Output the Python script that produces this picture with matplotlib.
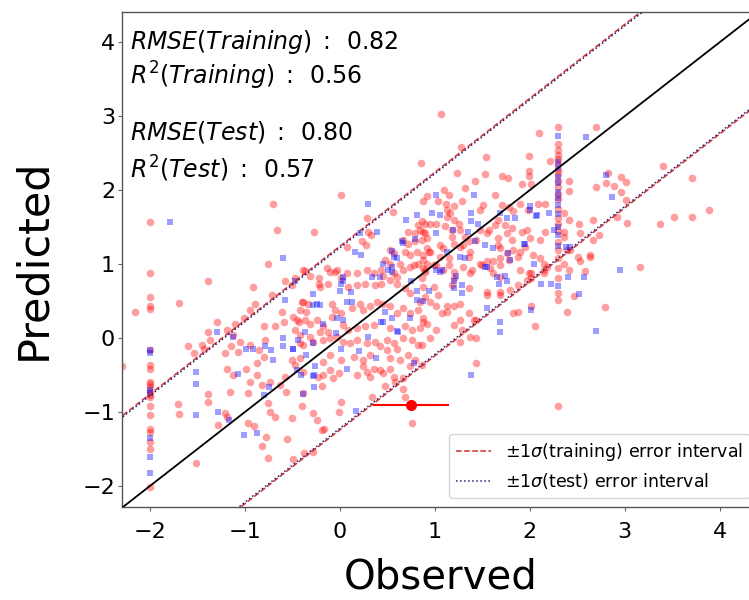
import matplotlib
matplotlib.use("Agg")
import matplotlib.pyplot as plt
from matplotlib.lines import Line2D

# ---------------- data ----------------
train_points = [
    (-2.0, 1.57), (-0.70, 1.81), (-0.66, 1.46), (-0.27, 1.44), (0.02, 1.94),
    (1.07, 3.03), (1.28, 2.59), (0.86, 2.37), (1.24, 2.24), (1.54, 2.45), (1.53, 2.22), (1.43, 2.13),
    (1.71, 2.19), (1.77, 2.16), (1.99, 2.47), (1.99, 2.26), (1.99, 2.19), (2.10, 2.78), (1.92, 2.08),
    (2.02, 2.08), (2.70, 2.86), (2.22, 2.40), (2.42, 2.12), (2.42, 1.99), (2.83, 2.24), (2.70, 2.04),
    (2.80, 2.10), (2.89, 2.06), (2.96, 2.18), (3.01, 2.11), (2.96, 1.98), (3.01, 1.87), (2.92, 1.64),
    (3.03, 1.56), (3.40, 2.33), (3.71, 2.16), (3.89, 1.73), (3.71, 1.64), (3.52, 1.64), (3.37, 1.55),
    (2.52, 1.54), (2.67, 1.60), (2.41, 1.60), (2.53, 1.42),
    (0.29, 1.62), (0.56, 1.71), (0.30, 1.44), (0.33, 1.40), (0.24, 1.31), (0.28, 1.26), (0.08, 1.23),
    (0.72, 1.44), (0.79, 1.42), (0.85, 1.46), (0.90, 1.42), (0.83, 1.53), (0.90, 1.55), (0.67, 1.33),
    (0.72, 1.27), (0.79, 1.31), (0.87, 1.33), (0.92, 1.35), (0.53, 1.19), (0.57, 1.15), (0.69, 1.17),
    (0.74, 1.13), (0.81, 1.17), (0.88, 1.13), (0.94, 1.17), (0.48, 1.06), (0.53, 1.01), (0.44, 0.92),
    (0.64, 1.01), (0.67, 0.92), (0.74, 0.97), (0.83, 1.01), (0.88, 0.95), (-0.13, 0.95), (-0.03, 0.92),
    (0.08, 0.88), (0.18, 0.88), (0.29, 0.92), (0.36, 0.88), (-0.47, 0.81), (-0.38, 0.92), (-0.31, 0.84),
    (0.46, 0.84), (0.60, 0.83),
    (1.10, 2.01), (1.32, 2.03), (1.64, 1.94), (1.15, 1.94), (1.04, 1.85), (1.12, 1.82), (1.20, 1.79),
    (1.29, 1.85), (0.92, 1.92), (0.88, 1.85), (1.13, 1.73), (1.16, 1.69), (1.51, 1.80), (1.48, 1.73),
    (1.71, 1.80), (1.78, 1.78), (1.83, 1.72), (1.90, 1.81), (1.98, 1.74), (2.09, 1.81), (2.16, 1.82),
    (2.36, 1.69), (1.67, 1.60), (1.64, 1.53), (0.87, 1.58), (0.88, 1.44), (0.95, 1.55), (1.02, 1.54),
    (1.13, 1.64), (1.20, 1.60), (1.26, 1.55), (1.11, 1.52), (1.18, 1.46), (1.27, 1.46), (1.32, 1.37),
    (1.36, 1.31), (1.44, 1.33), (1.48, 1.46), (1.57, 1.46), (1.74, 1.53), (1.81, 1.49), (1.92, 1.44),
    (1.67, 1.26), (1.69, 1.22), (0.92, 1.22), (0.95, 1.17), (1.06, 1.26), (1.09, 1.22), (1.20, 1.28),
    (1.27, 1.24), (1.37, 1.17), (1.36, 1.10), (1.76, 1.15), (1.83, 1.19), (1.90, 1.17), (1.95, 1.24),
    (2.00, 1.35), (2.11, 1.33), (2.16, 1.44), (2.36, 1.44), (2.36, 1.37), (2.39, 1.19), (2.04, 1.13),
    (2.11, 1.08), (1.69, 0.99), (1.58, 0.95), (1.48, 1.01), (1.90, 0.92), (2.01, 0.88), (2.15, 0.92),
    (1.20, 0.90), (1.30, 0.97), (1.37, 0.88), (0.90, 0.92), (1.02, 0.99), (1.09, 0.92),
    (1.18, 1.37), (1.30, 1.26), (1.55, 1.42), (1.67, 1.35), (1.76, 1.42), (1.81, 1.33), (1.97, 1.46),
    (2.67, 1.33), (2.73, 1.40), (2.43, 1.19), (2.51, 1.10), (2.64, 1.13),
    (0.88, 1.06), (1.06, 1.10), (1.15, 1.08), (1.50, 0.99), (1.55, 1.04), (1.62, 1.04), (1.69, 1.08),
    (1.78, 1.06), (1.88, 1.10), (2.15, 1.01),
    (-0.50, 0.72), (-0.38, 0.49), (-0.33, 0.47), (-0.42, 0.38), (-0.10, 0.89), (-0.05, 0.90), (0.01, 0.81),
    (-0.22, 0.81), (-0.12, 0.74), (-0.21, 0.70), (0.09, 0.70), (0.18, 0.72), (0.27, 0.74), (0.37, 0.72),
    (0.44, 0.74), (0.53, 0.79), (0.60, 0.74), (0.57, 0.88), (0.69, 0.68), (0.74, 0.61), (0.88, 0.70),
    (0.90, 0.56), (-0.08, 0.47), (-0.05, 0.38), (0.01, 0.34), (-0.08, 0.29), (0.13, 0.41), (0.22, 0.47),
    (0.25, 0.38), (0.32, 0.43), (0.39, 0.49), (0.46, 0.47), (0.53, 0.43), (0.60, 0.34), (0.67, 0.41),
    (0.74, 0.34), (0.83, 0.38), (0.88, 0.27), (0.92, 0.20), (0.53, 0.14), (0.69, 0.16), (0.76, 0.11),
    (0.85, 0.14), (-0.49, 0.29), (-0.43, 0.22), (-0.36, 0.25), (-0.31, 0.20), (-0.24, 0.25), (-0.17, 0.16),
    (-0.21, 0.09), (-0.12, 0.09), (0.04, 0.18), (0.09, 0.11), (0.18, 0.14), (0.27, 0.16), (0.36, 0.18),
    (-0.42, 0.04), (-0.31, 0.02), (-0.38, -0.09), (-0.28, -0.05), (-0.17, -0.02), (-0.10, 0.0),
    (-0.03, 0.02), (0.04, -0.05), (0.11, -0.07), (0.18, -0.02), (0.29, -0.07), (0.37, -0.05),
    (0.43, -0.11), (0.50, -0.02), (0.57, -0.07), (0.50, -0.16), (0.60, -0.14), (0.67, 0.0), (0.76, -0.02),
    (0.83, -0.09), (0.32, -0.23), (0.25, -0.29), (0.15, -0.25), (0.01, -0.29), (-0.10, -0.23),
    (-0.17, -0.32), (-0.50, -0.29), (-0.42, -0.27), (-0.10, -0.43), (-0.01, -0.47), (-0.17, -0.50),
    (0.53, -0.27), (0.64, -0.29), (0.72, -0.23), (0.79, -0.29), (0.74, -0.38), (0.29, -0.45),
    (0.43, -0.43), (0.53, -0.41), (0.18, -0.50), (0.32, -0.52),
    (0.92, 1.01), (0.99, 0.99), (1.15, 0.99), (1.20, 0.81), (1.18, 0.72), (0.87, 0.81), (0.99, 0.70),
    (1.04, 0.59), (0.85, 0.49), (0.95, 0.49), (1.02, 0.43), (1.13, 0.43), (1.20, 0.43), (1.27, 0.47),
    (1.08, 0.34), (1.13, 0.36), (1.36, 0.68), (1.39, 0.92), (1.62, 0.88), (1.69, 0.83), (1.55, 0.63),
    (1.55, 0.59), (1.69, 0.63), (1.69, 0.59), (1.79, 0.65), (1.88, 0.72), (1.97, 0.79), (1.36, 0.34),
    (1.41, 0.25), (1.44, 0.25), (1.27, 0.25), (1.20, 0.18), (1.02, 0.11), (0.95, 0.0), (0.88, 0.22),
    (1.29, 0.11), (1.37, 0.02), (1.44, 0.0), (1.27, -0.05), (0.87, -0.09), (1.44, -0.34), (1.83, 0.34),
    (1.88, 0.36), (2.01, 0.43), (2.06, 0.16), (1.99, 0.88), (2.01, 0.81), (2.15, 0.88), (2.18, 0.97),
    (2.36, 1.01), (2.41, 0.92), (2.39, 0.36),
    (3.16, 0.96), (2.58, 0.91), (2.64, 1.10), (2.53, 1.04), (2.47, 0.57), (2.79, 0.42),
    (-2.15, 0.35), (-1.69, 0.48), (-1.38, 0.77), (-2.29, -0.38), (-1.70, -0.89), (-1.69, -1.02),
    (-1.51, -1.68), (-1.29, 0.22), (-1.38, 0.09), (-1.36, -0.02), (-1.45, -0.09), (-1.43, -0.14),
    (-1.19, -0.41), (-1.12, -0.50), (-0.99, -0.41), (-1.38, -0.75), (-1.38, -0.86), (-1.15, -0.72),
    (-1.21, -1.01), (-1.19, -1.06), (-1.28, -1.17), (-0.96, -1.14), (-0.90, -1.19), (-0.82, -1.46),
    (-0.75, -1.62), (-0.55, -1.36), (-0.49, -1.63), (-0.37, -1.55), (-0.16, -1.23), (-0.50, -1.08),
    (-0.68, -1.06), (-0.75, -0.88), (-0.73, -0.99), (-0.96, -0.74), (-0.94, -0.59), (-0.82, -0.63),
    (-0.87, -0.50), (-0.73, -0.59), (-0.63, -0.63), (-0.56, -0.72), (-0.57, -0.52), (-0.47, -0.36),
    (-0.38, -0.45), (-0.38, -0.74), (-0.40, -0.92), (-0.23, -0.52), (-0.19, -0.65), (-0.07, -0.54),
    (0.01, -0.86), (-0.01, -0.99), (0.34, -0.79), (0.76, -1.15), (0.57, -0.52), (0.67, -0.54),
    (0.87, -0.36), (-0.77, -1.33), (-1.21, -0.20), (-1.07, -0.18), (-1.14, -0.11), (-1.05, -0.05),
    (-0.94, -0.09), (-0.85, -0.16), (-0.78, -0.02), (-0.94, 0.38), (-0.89, 0.47), (-0.80, 0.16),
    (-0.91, 0.70), (-0.75, 1.01), (-0.71, 0.59), (-0.61, 0.36), (-0.59, 0.22), (-0.68, 0.16),
    (-0.57, 0.77), (-0.36, 0.91), (-0.22, 0.74), (-0.40, 0.49), (-0.35, 0.36), (-0.45, 0.25),
    (-0.47, 0.11), (-0.42, -0.07), (-0.80, -0.25), (-0.87, -0.34), (-1.12, 0.04), (-1.10, 0.19),
    (-1.19, 0.11), (-1.01, 0.28), (-1.53, -0.20), (-1.60, -0.11), (0.78, 0.99), (0.90, 0.90),
    (0.25, -0.38), (0.36, -0.41), (0.46, -0.47), (0.48, -0.65), (0.58, -0.59), (0.67, -0.68),
    (-0.28, -1.01), (-0.24, -1.10), (-0.28, -1.53), (-0.19, -1.24), (0.69, -0.79),
]
# stacked column of training points at observed = -2
train_col_a_x = -2.0
train_col_a_y = [0.88, 0.56, 0.43, 0.40, -0.16, -0.36, -0.41, -0.59, -0.62, -0.66, -0.72, -0.76,
                 -0.79, -0.92, -1.04, -1.22, -1.26, -1.40, -1.49, -2.01]
# stacked column of training points at observed = 2.3
train_col_b_x = 2.30
train_col_b_y = [2.85, 2.62, 2.55, 2.48, 2.42, 2.35, 2.28, 2.22, 2.12, 2.05, 1.95, 1.88, 1.75, 1.62,
                 1.55, 1.45, 1.30, 1.20, 1.08, 0.95, 0.82, 0.61, 0.52, -0.92]

test_points = [
    (-1.78, 1.57), (0.30, 1.81), (-0.60, 1.09), (1.02, 1.94), (1.41, 1.94), (0.70, 1.60), (0.97, 1.69),
    (1.06, 1.67), (1.38, 1.70), (1.38, 1.58), (2.00, 1.79), (2.00, 1.74), (1.69, 1.69), (1.76, 1.62),
    (1.85, 1.62), (2.20, 1.70), (2.07, 1.65), (1.19, 1.47), (1.35, 1.43), (1.46, 1.54), (0.81, 1.67),
    (0.67, 1.29), (0.79, 1.34), (1.01, 1.42), (2.43, 1.24), (2.26, 1.46), (1.95, 1.27), (2.59, 2.72),
    (2.80, 2.21), (2.87, 1.91),
    (0.39, 1.44), (0.21, 1.42), (0.16, 1.17), (0.23, 1.13), (0.66, 1.31), (0.55, 1.18), (0.60, 1.08),
    (0.55, 0.96), (0.51, 0.92), (0.04, 0.83), (0.34, 0.83),
    (2.08, 1.67), (1.61, 1.22), (1.43, 1.31), (1.53, 1.26), (1.13, 1.17), (1.27, 1.10), (1.32, 1.09),
    (1.77, 1.15), (1.79, 1.06), (1.94, 1.28), (2.38, 1.23), (1.55, 0.97), (1.66, 0.83), (1.74, 0.84),
    (1.23, 0.84), (1.08, 0.92),
    (-0.47, 0.77), (-0.28, 0.60), (-0.28, 0.45), (-0.21, 0.45), (0.01, 0.74), (0.04, 0.77), (0.0, 0.64),
    (0.12, 0.63), (0.43, 0.83), (0.55, 0.90), (0.81, 0.64), (0.81, 0.52), (0.88, 0.51), (-0.03, 0.27),
    (0.04, 0.25), (0.08, 0.49), (0.13, 0.49), (0.48, 0.36), (0.44, 0.22), (0.74, 0.27), (0.61, 0.09),
    (-0.36, 0.09), (-0.17, 0.20), (0.30, 0.02), (-0.44, -0.02), (-0.49, -0.14), (-0.28, -0.07),
    (-0.04, 0.07), (0.01, -0.14), (0.20, -0.17), (0.38, -0.27), (-0.35, -0.23), (-0.26, -0.38),
    (-0.45, -0.43), (-0.28, -0.51), (0.08, -0.41),
    (1.01, 0.92), (1.06, 0.90), (1.20, 0.77), (1.29, 0.72), (1.20, 0.68), (1.29, 0.61), (0.94, 0.64),
    (1.53, 0.96), (1.68, 0.73), (1.76, 0.77), (1.55, 0.41), (1.69, 0.22), (1.69, 0.09), (2.01, 0.38),
    (2.05, 1.00), (2.12, 0.73), (2.23, 0.73), (2.40, 0.83),
    (2.95, 0.92), (2.57, 0.83), (2.52, 0.60), (2.70, 0.10), (1.38, -0.49),
    (-1.51, -0.46), (-1.51, -0.62), (-1.51, -1.03), (-1.29, 0.09), (-1.12, 0.02), (-1.07, -0.48),
    (-1.28, -0.99), (-1.16, -1.10), (-1.01, -1.31), (-0.87, -1.28), (-0.80, -0.77), (-0.74, -0.66),
    (-0.41, -0.50), (-0.27, -0.50), (-0.39, -0.75), (-0.27, -0.66), (0.17, -0.98), (0.78, -0.34),
    (-0.98, -0.14), (-0.91, -0.14), (-0.78, -0.11), (-0.72, -0.16), (-0.60, 0.01), (-0.60, -0.11),
    (-0.49, -0.15), (-0.70, -0.29), (-0.57, 0.52), (-0.24, 0.47), (0.46, 1.01), (0.57, 1.10),
    (0.60, 0.10), (0.46, 0.22), (0.55, 0.27), (0.75, 0.77),
]
test_col_a_x = -2.0
test_col_a_y = [-0.16, -0.20, -0.70, -0.74, -1.35, -1.61, -1.82]
test_col_b_x = 2.30
test_col_b_y = [2.73, 2.38, 2.30, 2.18, 2.10, 1.98, 1.90, 1.80, 1.68, 1.50, 1.40, 1.25, 0.71]

sigma_train = 1.24
sigma_test = 1.22
err_point_x, err_point_y, err_point_xerr = 0.75, -0.90, 0.40

stats_lines = [r"$RMSE(Training)\;:\,$ 0.82", r"$R^2(Training)\;:\,$ 0.56",
               r"$RMSE(Test)\;:\,$ 0.80", r"$R^2(Test)\;:\,$ 0.57"]
legend_labels = [r"$\pm1\sigma$(training) error interval", r"$\pm1\sigma$(test) error interval"]
xlim = (-2.29, 4.41)
ylim = (-2.28, 4.41)

# ---------------- assemble ----------------
train_x = [p[0] for p in train_points] + [train_col_a_x] * len(train_col_a_y) + [train_col_b_x] * len(train_col_b_y)
train_y = [p[1] for p in train_points] + train_col_a_y + train_col_b_y
test_x = [p[0] for p in test_points] + [test_col_a_x] * len(test_col_a_y) + [test_col_b_x] * len(test_col_b_y)
test_y = [p[1] for p in test_points] + test_col_a_y + test_col_b_y

fig = plt.figure(figsize=(7.49, 6.0), dpi=100)
ax = fig.add_axes([122 / 749, 1 - 507 / 600, 636.5 / 749, 495 / 600])

ax.scatter(train_x, train_y, s=30, c="red", alpha=0.38, marker="o", linewidths=0, zorder=2)
ax.scatter(test_x, test_y, s=24, c="blue", alpha=0.38, marker="s", linewidths=0, zorder=3)

lx = [xlim[0] - 1, xlim[1] + 1]
ax.plot(lx, lx, color="black", lw=1.3, zorder=4)
ax.plot(lx, [v + sigma_train for v in lx], color="#d03030", ls="--", lw=1.1, zorder=4)
ax.plot(lx, [v - sigma_train for v in lx], color="#d03030", ls="--", lw=1.1, zorder=4)
ax.plot(lx, [v + sigma_test for v in lx], color="#20207a", ls=":", lw=1.1, zorder=5)
ax.plot(lx, [v - sigma_test for v in lx], color="#20207a", ls=":", lw=1.1, zorder=5)

ax.errorbar([err_point_x], [err_point_y], xerr=[err_point_xerr], fmt="o", color="red",
            ms=7, lw=1.5, capsize=0, zorder=6)

ax.set_xlim(*xlim)
ax.set_ylim(*ylim)
ax.set_xticks([-2, -1, 0, 1, 2, 3, 4])
ax.set_yticks([-2, -1, 0, 1, 2, 3, 4])
ax.tick_params(labelsize=16, length=3, color="#666666")
ax.tick_params(axis="x", pad=8)
ax.tick_params(axis="y", pad=2)
for sp in ax.spines.values():
    sp.set_color("#555555")
    sp.set_linewidth(1.0)

ax.set_xlabel("Observed", fontsize=29, labelpad=11)
ax.set_ylabel("Predicted", fontsize=31, labelpad=20)

ys = [0.925, 0.853, 0.743, 0.665]
for t, yy in zip(stats_lines, ys):
    ax.text(0.013, yy, t, transform=ax.transAxes, fontsize=17, va="baseline", ha="left")

handles = [Line2D([], [], color="#d03030", ls="--", lw=1.1),
           Line2D([], [], color="#20207a", ls=":", lw=1.1)]
ax.legend(handles, legend_labels, loc="lower right", fontsize=12.5, frameon=True,
          bbox_to_anchor=(1.0, 0.0), borderaxespad=0.5)

fig.savefig("out.png", dpi=100)
